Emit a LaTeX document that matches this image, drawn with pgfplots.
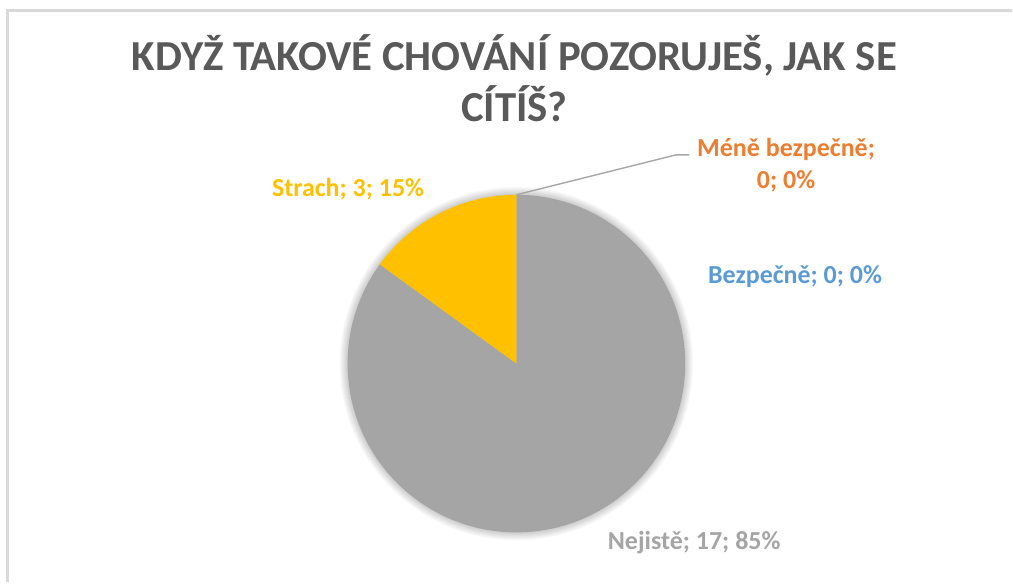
\documentclass[border=0pt]{standalone}
\usepackage{pgfplots}
\pgfplotsset{compat=1.18}
\usepackage{pgfplotstable}
\usepackage{fontspec}
\setmainfont{Carlito}

\definecolor{titlegray}{HTML}{595959}
\definecolor{cgold}{HTML}{FFC000}
\definecolor{cgray}{HTML}{A5A5A5}
\definecolor{corange}{HTML}{ED7D31}
\definecolor{cblue}{HTML}{5B9BD5}
\definecolor{framegray}{HTML}{D9D9D9}
\definecolor{leader}{HTML}{A6A6A6}

% counts per answer, in Excel's order (clockwise from 12 o'clock)
\pgfplotstableread{
cat value
Bezpecne 0
Mene 0
Nejiste 17
Strach 3
}\piedata

\begin{document}
\begin{tikzpicture}
\pgfplotstablegetelem{0}{value}\of\piedata\edef\vA{\pgfplotsretval}%
\pgfplotstablegetelem{1}{value}\of\piedata\edef\vB{\pgfplotsretval}%
\pgfplotstablegetelem{2}{value}\of\piedata\edef\vC{\pgfplotsretval}%
\pgfplotstablegetelem{3}{value}\of\piedata\edef\vD{\pgfplotsretval}%
\pgfmathsetmacro\total{\vA+\vB+\vC+\vD}%
\pgfmathsetmacro\aA{90}%
\pgfmathsetmacro\aB{\aA-360*\vA/\total}%
\pgfmathsetmacro\aC{\aB-360*\vB/\total}%
\pgfmathsetmacro\aD{\aC-360*\vC/\total}%
\pgfmathsetmacro\aE{\aD-360*\vD/\total}%
\begin{axis}[
    scale only axis,
    width=506.5pt, height=291.5pt,
    xmin=0, xmax=1013, ymin=0, ymax=583,
    hide axis, clip=false,
  ]
  \fill[white] (axis cs:0,0) rectangle (axis cs:1013,583);
  \draw[framegray, line width=1.2pt] (axis cs:7.5,0) -- (axis cs:7.5,572.5) -- (axis cs:1013,572.5);

  % title
  \node[anchor=base, text=titlegray, font=\fontsize{21.4}{25}\selectfont\bfseries]
    at (axis cs:515,512) {KDYŽ TAKOVÉ CHOVÁNÍ POZORUJEŠ, JAK SE};
  \node[anchor=base, text=titlegray, font=\fontsize{21.4}{25}\selectfont\bfseries]
    at (axis cs:515,461) {CÍTÍŠ?};

  % soft shadow
  \pgfplotsinvokeforeach{1,...,8}{
    \fill[black, opacity=0.022] (axis cs:517,219) circle[radius=84.5pt+#1*0.5pt];
  }

  % slices
  \fill[cblue]   (axis cs:517,219) -- ++(\aA:84.5pt) arc[start angle=\aA, end angle=\aB, radius=84.5pt] -- cycle;
  \fill[corange] (axis cs:517,219) -- ++(\aB:84.5pt) arc[start angle=\aB, end angle=\aC, radius=84.5pt] -- cycle;
  \fill[cgray]   (axis cs:517,219) -- ++(\aC:84.5pt) arc[start angle=\aC, end angle=\aD, radius=84.5pt] -- cycle;
  \fill[cgold]   (axis cs:517,219) -- ++(\aD:84.5pt) arc[start angle=\aD, end angle=\aE, radius=84.5pt] -- cycle;

  % leader line for the empty slice
  \draw[leader, line width=0.7pt] (axis cs:517,388) -- (axis cs:677,428) -- (axis cs:690,428);

  % data labels
  \begin{scope}[font=\fontsize{13}{15.6}\selectfont\bfseries]
    \node[anchor=base, text=cgold] at (axis cs:348.5,386) {Strach; 3; 15\%};
    \node[anchor=base, text=corange] at (axis cs:787,426) {Méně bezpečně;};
    \node[anchor=base, text=corange] at (axis cs:787,394) {0; 0\%};
    \node[anchor=base, text=cblue] at (axis cs:796,299) {Bezpečně; 0; 0\%};
    \node[anchor=base, text=cgray] at (axis cs:695,33) {Nejistě; 17; 85\%};
  \end{scope}
\end{axis}
\end{tikzpicture}
\end{document}
